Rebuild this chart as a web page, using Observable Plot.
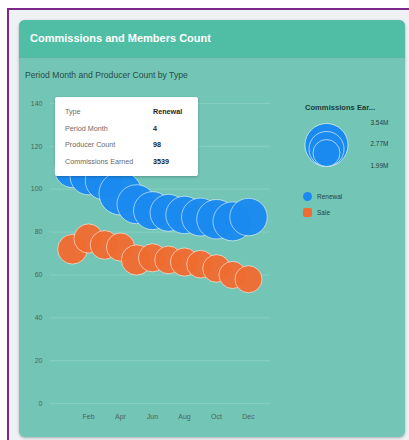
<!DOCTYPE html>
<html><head><meta charset="utf-8">
<script src="https://cdn.jsdelivr.net/npm/d3@7"></script>
<script src="https://cdn.jsdelivr.net/npm/@observablehq/plot@0.6"></script>
<style>
html,body{margin:0;padding:0;width:409px;height:440px;overflow:hidden;background:#fff;font-family:"Liberation Sans",Arial,sans-serif;}
#frame{position:absolute;left:7px;top:8px;width:420px;height:450px;border-left:2px solid #7b2a8c;border-top:2px solid #7b2a8c;background:#eef2f4;}
#card{position:absolute;left:19px;top:20px;width:386px;height:417px;background:#73c6b6;border-radius:6px;box-shadow:0 1px 3px rgba(0,0,0,.3);overflow:hidden;}
#header{position:absolute;left:0;top:0;width:100%;height:37px;background:#50bea5;border-bottom:1px solid #5ab5a2;}
#title{position:absolute;left:11px;top:12px;color:#fff;font-weight:bold;font-size:11px;}
#subtitle{position:absolute;left:25px;top:70px;color:#2c4a45;font-size:8.6px;}
#chart{position:absolute;left:0;top:0;}
#tip{position:absolute;left:55px;top:97px;width:143px;height:79px;background:#fff;border-radius:2px;box-shadow:0 1px 3px rgba(0,0,0,.25);font-size:7.2px;}
#tip div{position:absolute;white-space:nowrap;}
#tip .lab{left:10px;color:#6b6b6b;}
#tip .val{left:98px;color:#1e1e1e;font-weight:bold;}
#sizeTitle{position:absolute;left:305px;top:103px;font-size:7.6px;font-weight:bold;color:#1f3a36;white-space:nowrap;}
#sizeLeg{position:absolute;left:295px;top:115px;}
.sw{position:absolute;font-size:6.5px;color:#2a3f3c;white-space:nowrap;}
</style></head>
<body>
<div id="frame"></div>
<div id="card"><div id="header"><div id="title"></div></div></div>
<div id="subtitle"></div>
<div id="chart"></div>
<div id="tip"></div>
<div id="sizeTitle"></div>
<div id="sizeLeg"></div>
<div id="colorLeg"></div>
<script>
const titleText = "Commissions and Members Count";
const subtitleText = "Period Month and Producer Count by Type";
const months = ["Jan","Feb","Mar","Apr","May","Jun","Jul","Aug","Sep","Oct","Nov","Dec"];
const monthTicks = ["Feb","Apr","Jun","Aug","Oct","Dec"];
const yTicks = [0,20,40,60,80,100,120,140];
const types = ["Renewal","Sale"];
const typeColors = ["#1a8af0","#ee6c32"];
const renewalCount = [109,106,104,98,93,90,89,88,87,86,85,87];
const renewalComm = [2.80,2.95,3.10,3.539,3.15,3.05,2.95,3.00,3.05,3.20,3.15,3.00];
const saleCount = [72,77,74,73,67,68,67,66,65,63,60,58];
const saleComm = [2.25,2.20,2.15,2.10,2.30,2.10,2.05,2.10,2.05,2.05,2.00,1.99];
const sizeLegendValues = [3.54,2.77,1.99];
const sizeLegendLabels = ["3.54M","2.77M","1.99M"];
const sizeLegendTitle = "Commissions Ear...";
const tipLabels = ["Type","Period Month","Producer Count","Commissions Earned"];
const tipValues = ["Renewal","4","98","3539"];

document.getElementById("title").textContent = titleText;
document.getElementById("subtitle").textContent = subtitleText;

const data = [];
months.forEach((m,i)=>data.push({type:"Sale",month:m,count:saleCount[i],comm:saleComm[i]}));
months.forEach((m,i)=>data.push({type:"Renewal",month:m,count:renewalCount[i],comm:renewalComm[i]}));

const rDomain = [1.99,3.54], rRange = [13.5,21.5];

const chart = Plot.plot({
  width:409, height:440,
  marginLeft:50, marginRight:139, marginTop:103, marginBottom:37,
  style:{background:"transparent",fontFamily:"Liberation Sans, Arial, sans-serif",fontSize:"7px",color:"#4d625e",overflow:"visible"},
  x:{type:"point",domain:months,padding:1.09,label:null,ticks:monthTicks,tickSize:0,tickPadding:11},
  y:{domain:[0,140],label:null,ticks:yTicks,tickSize:0,tickPadding:8},
  r:{type:"linear",domain:rDomain,range:rRange,clamp:true},
  color:{domain:types,range:typeColors},
  marks:[
    Plot.gridY(yTicks,{stroke:"#ffffff",strokeOpacity:0.15}),
    Plot.dot(data,{x:"month",y:"count",r:"comm",fill:"type",fillOpacity:0.97,stroke:"#ffffff",strokeOpacity:0.55,strokeWidth:1,sort:null})
  ]
});
document.getElementById("chart").append(chart);

// tooltip
const tip = document.getElementById("tip");
tipLabels.forEach((l,i)=>{
  const a=document.createElement("div");a.className="lab";a.style.top=(10+i*16.7)+"px";a.textContent=l;tip.append(a);
  const b=document.createElement("div");b.className="val";b.style.top=(10+i*16.7)+"px";b.textContent=tipValues[i];tip.append(b);
});

// size legend
document.getElementById("sizeTitle").textContent = sizeLegendTitle;
const rs = chart.scale("r");
const legData = sizeLegendValues.map((v,i)=>({v,label:sizeLegendLabels[i],i}));
const sizeLeg = Plot.plot({
  width:110,height:60,margin:0,
  style:{background:"transparent",fontFamily:"Liberation Sans, Arial, sans-serif",fontSize:"6.5px",color:"#2a3f3c",overflow:"visible"},
  x:{type:"identity",axis:null},y:{type:"identity",axis:null},
  r:{type:"linear",domain:rDomain,range:rRange,clamp:true},
  marks:[
    Plot.dot(legData,{x:31,y:d=>51-rs.apply(d.v),r:"v",fill:"#1a8af0",stroke:"#ffffff",strokeOpacity:0.6,strokeWidth:1,sort:null}),
    Plot.text(legData,{x:93,y:d=>7+d.i*21.5,text:"label",textAnchor:"end",fill:"#2a3f3c"})
  ]
});
document.getElementById("sizeLeg").append(sizeLeg);

// color legend
const cl = document.getElementById("colorLeg");
types.forEach((t,i)=>{
  const sw=document.createElement("div");
  sw.style.cssText=`position:absolute;left:303px;top:${192+i*16}px;width:9px;height:9px;background:${typeColors[i]};border-radius:${i===0?"50%":"2px"};`;
  cl.append(sw);
  const tx=document.createElement("div");tx.className="sw";
  tx.style.left="317px";tx.style.top=(192.5+i*16)+"px";tx.textContent=t;cl.append(tx);
});
</script>
</body></html>
